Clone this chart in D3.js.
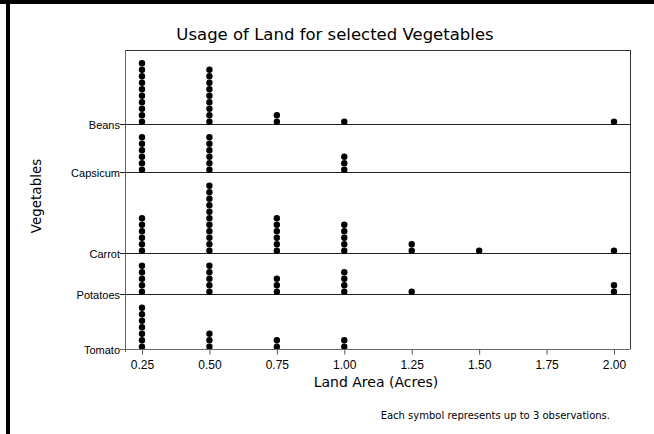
<!DOCTYPE html>
<html><head><meta charset="utf-8">
<script src="https://cdn.jsdelivr.net/npm/d3@7"></script>
<style>body{margin:0;background:#fff}svg{display:block;font-family:"Liberation Sans",Arial,sans-serif}</style>
</head><body>
<svg id="c" width="654" height="434"></svg>
<script>
const title = "Usage of Land for selected Vegetables";
const xLabel = "Land Area (Acres)";
const yLabel = "Vegetables";
const footnote = "Each symbol represents up to 3 observations.";
const xValues = [0.25, 0.5, 0.75, 1.0, 1.25, 1.5, 1.75, 2.0];
const xTickLabels = ["0.25","0.50","0.75","1.00","1.25","1.50","1.75","2.00"];
const categories = ["Beans", "Capsicum", "Carrot", "Potatoes", "Tomato"];
// number of symbols stacked at each x value
const beans    = [10, 9, 2, 1, 0, 0, 0, 1];
const capsicum = [6, 6, 0, 3, 0, 0, 0, 0];
const carrot   = [6, 11, 6, 5, 2, 1, 0, 1];
const potatoes = [5, 5, 3, 4, 1, 0, 0, 2];
const tomato   = [7, 3, 2, 2, 0, 0, 0, 0];
const seriesList = [beans, capsicum, carrot, potatoes, tomato];

const svg = d3.select("#c");
const W = 654, H = 434;
const L = 125, R = 630, T = 50, B = 349;
const pad = 1.4;
const wide = "DejaVu Sans, Verdana, sans-serif";

// frame
svg.append("rect").attr("x",0).attr("y",0).attr("width",W).attr("height",4).attr("fill","#000");
svg.append("rect").attr("x",6).attr("y",0).attr("width",4).attr("height",H).attr("fill","#000");

const x = d3.scaleLinear().domain([0.25, 2.0]).range([142, 614]);

// panel layout in symbol units, bottom to top
const panels = categories.map((c,i)=>({name:c, counts:seriesList[i], size:d3.max(seriesList[i])+pad}));
const total = d3.sum(panels, p=>p.size);
const y = d3.scaleLinear().domain([0,total]).range([B,T]);
let acc = 0;
for (let i = panels.length-1; i>=0; i--) { panels[i].base = acc; acc += panels[i].size; }

// box
svg.append("line").attr("x1",L).attr("x2",R).attr("y1",T+0.5).attr("y2",T+0.5).attr("stroke","#333");
svg.append("line").attr("x1",R+0.5).attr("x2",R+0.5).attr("y1",T).attr("y2",B).attr("stroke","#333");
svg.append("line").attr("x1",L+0.5).attr("x2",L+0.5).attr("y1",T).attr("y2",B+3).attr("stroke","#666");

// panel baselines + labels
panels.forEach(p=>{
  const yb = Math.round(y(p.base))+0.5;
  svg.append("line").attr("x1",L-5).attr("x2",R).attr("y1",yb).attr("y2",yb)
    .attr("stroke", p.name==="Tomato" ? "#666" : "#222").attr("stroke-width",1.2);
  svg.append("text").attr("x",L-5).attr("y",yb+4).attr("text-anchor","end")
    .attr("font-size",11).attr("fill","#000").text(p.name);
  const step = y(0)-y(1);
  p.counts.forEach((n,j)=>{
    for (let k=0;k<n;k++){
      svg.append("circle").attr("cx",x(xValues[j])).attr("cy",yb-2.8-k*step)
        .attr("r",3.2).attr("fill","#000");
    }
  });
});

// x axis
const xAxis = d3.axisBottom(x).tickValues(xValues).tickFormat((d,i)=>xTickLabels[i]).tickSize(5).tickSizeOuter(0);
const gx = svg.append("g").attr("transform",`translate(0,${B+0.5})`).call(xAxis);
gx.select(".domain").attr("stroke","#666").attr("d",`M${L},0H${R}`);
gx.selectAll(".tick line").attr("stroke","#555");
gx.selectAll("text").attr("font-size",12).attr("fill","#000").attr("font-family","Liberation Sans, Arial, sans-serif").attr("dy","0.95em");

svg.append("text").attr("x",335).attr("y",40).attr("text-anchor","middle").attr("font-family",wide).attr("font-size",16.5).text(title);
svg.append("text").attr("x",376).attr("y",387).attr("text-anchor","middle").attr("font-family",wide).attr("font-size",14).text(xLabel);
svg.append("text").attr("transform",`translate(41,196) rotate(-90)`).attr("text-anchor","middle").attr("font-family",wide).attr("font-size",13.5).text(yLabel);
svg.append("text").attr("x",610).attr("y",419).attr("text-anchor","end").attr("font-family",wide).attr("font-size",10).text(footnote);
</script>
</body></html>
